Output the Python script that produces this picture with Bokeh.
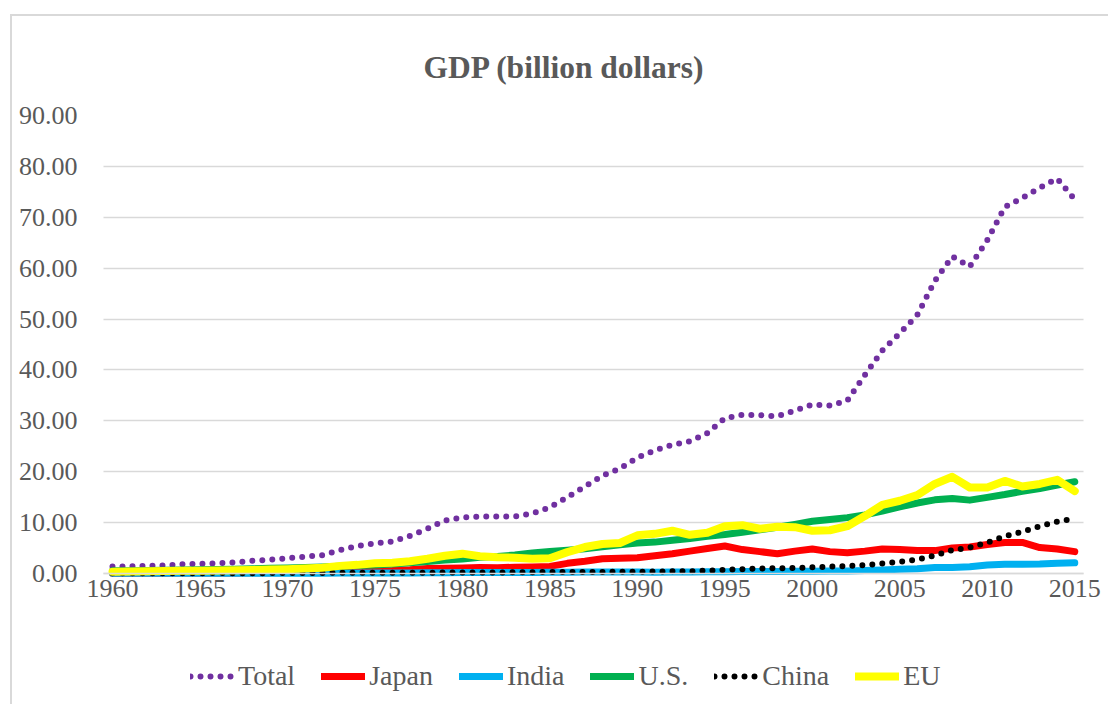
from bokeh.plotting import figure
from bokeh.models import (ColumnDataSource, FixedTicker, NumeralTickFormatter,
                          Legend, LegendItem, Range1d)
from bokeh.embed import file_html
from bokeh.resources import INLINE

years = list(range(1960, 2016))

total = [1.4, 1.4, 1.5, 1.6, 1.8, 1.9, 2.0, 2.2, 2.5, 2.7,
         3.0, 3.3, 3.6, 4.6, 5.4, 5.9, 6.3, 7.4, 8.8, 10.4,
         11.0, 11.2, 11.2, 11.2, 11.8, 13.0, 15.0, 17.1, 19.2, 20.6,
         22.8, 24.2, 25.3, 26.0, 27.6, 30.5, 31.2, 31.1, 30.9, 32.0,
         33.2, 33.0, 34.0, 39.0, 43.8, 47.2, 50.8, 57.5, 62.3, 60.3,
         65.5, 72.0, 73.8, 75.8, 77.6, 73.5]

japan = [0.05, 0.05, 0.06, 0.07, 0.08, 0.09, 0.10, 0.12, 0.15, 0.17,
         0.21, 0.24, 0.31, 0.42, 0.47, 0.52, 0.58, 0.72, 0.98, 1.02,
         1.1, 1.2, 1.13, 1.24, 1.3, 1.4, 2.0, 2.4, 2.9, 3.0,
         3.1, 3.5, 3.9, 4.4, 4.9, 5.4, 4.7, 4.3, 3.9, 4.4,
         4.8, 4.3, 4.1, 4.4, 4.8, 4.7, 4.5, 4.5, 5.0, 5.2,
         5.7, 6.1, 6.1, 5.1, 4.8, 4.3]

india = [0.04, 0.04, 0.04, 0.05, 0.06, 0.06, 0.05, 0.05, 0.05, 0.06,
         0.06, 0.07, 0.07, 0.08, 0.10, 0.10, 0.10, 0.12, 0.14, 0.15,
         0.19, 0.20, 0.20, 0.22, 0.21, 0.23, 0.25, 0.28, 0.30, 0.30,
         0.32, 0.27, 0.29, 0.28, 0.33, 0.37, 0.39, 0.42, 0.42, 0.46,
         0.46, 0.49, 0.51, 0.60, 0.70, 0.82, 0.94, 1.20, 1.19, 1.34,
         1.66, 1.82, 1.83, 1.86, 2.04, 2.10]

us = [0.54, 0.56, 0.60, 0.64, 0.69, 0.74, 0.81, 0.86, 0.94, 1.02,
      1.07, 1.16, 1.28, 1.43, 1.55, 1.69, 1.88, 2.09, 2.36, 2.63,
      2.86, 3.21, 3.34, 3.64, 4.04, 4.35, 4.59, 4.87, 5.25, 5.66,
      5.98, 6.17, 6.54, 6.88, 7.31, 7.66, 8.10, 8.61, 9.09, 9.66,
      10.28, 10.62, 10.98, 11.51, 12.27, 13.09, 13.86, 14.48, 14.72, 14.42,
      14.96, 15.52, 16.16, 16.69, 17.39, 18.04]

china = [0.06, 0.05, 0.05, 0.05, 0.06, 0.07, 0.08, 0.07, 0.07, 0.08,
         0.09, 0.10, 0.11, 0.14, 0.14, 0.16, 0.15, 0.17, 0.15, 0.18,
         0.19, 0.20, 0.20, 0.23, 0.26, 0.31, 0.30, 0.27, 0.31, 0.35,
         0.36, 0.38, 0.43, 0.44, 0.56, 0.73, 0.86, 0.96, 1.03, 1.09,
         1.21, 1.34, 1.47, 1.66, 1.96, 2.29, 2.75, 3.55, 4.59, 5.10,
         6.09, 7.30, 8.20, 9.30, 10.20, 10.80]

eu = [0.36, 0.39, 0.43, 0.47, 0.52, 0.56, 0.61, 0.65, 0.70, 0.78,
      0.86, 0.97, 1.15, 1.5, 1.7, 2.0, 2.1, 2.4, 2.9, 3.5,
      3.9, 3.4, 3.2, 3.1, 2.9, 3.0, 4.2, 5.2, 5.8, 6.0,
      7.5, 7.8, 8.4, 7.6, 8.0, 9.3, 9.5, 8.8, 9.2, 9.1,
      8.4, 8.5, 9.3, 11.3, 13.5, 14.3, 15.4, 17.6, 19.0, 16.9,
      16.9, 18.2, 17.1, 17.6, 18.4, 16.2]

x_ticks = [1960, 1965, 1970, 1975, 1980, 1985, 1990, 1995, 2000, 2005, 2010, 2015]
y_ticks = [0, 10, 20, 30, 40, 50, 60, 70, 80, 90]

series_names = ["Total", "Japan", "India", "U.S.", "China", "EU"]
colors = ["#7030A0", "#FF0000", "#00B0F0", "#00B050", "#000000", "#FFFF00"]
widths = [6, 7, 7, 7, 6, 8]
dashes = ["0 10", "solid", "solid", "solid", "0 10", "solid"]

TEXT = "#595959"
GRID = "#d9d9d9"
FONT = "Liberation Serif"

src = ColumnDataSource(dict(year=years, total=total, japan=japan, india=india,
                            us=us, china=china, eu=eu))
cols = ["total", "japan", "india", "us", "china", "eu"]

# frame extends a little past the category band (so edge tick labels are not
# clipped) and below zero (to host the legend); grid and axis are bounded.
p = figure(width=1098, height=690, output_backend="svg", toolbar_location=None,
           x_range=Range1d(1958.0, 2016.7), y_range=Range1d(-24.56, 90),
           min_border_left=65, min_border_right=6, min_border_top=99,
           min_border_bottom=8)
p.styles = {"margin-left": "10px", "margin-top": "14px",
            "border-left": "2px solid " + GRID, "border-top": "2px solid " + GRID}

p.title.text = "GDP (billion dollars)"
p.title.text_font = FONT
p.title.text_font_size = "31.5px"
p.title.text_font_style = "bold"
p.title.text_color = TEXT
p.title.align = "left"
p.title.offset = 346
p.title.standoff = 62

renderers = []
for c, col, w, d in zip(colors, cols, widths, dashes):
    r = p.line("year", col, source=src, line_color=c, line_width=w,
               line_dash=d, line_cap="round", line_join="round")
    renderers.append(r)

p.xaxis.ticker = FixedTicker(ticks=x_ticks)
p.xaxis.fixed_location = 0
p.xaxis.bounds = (1959.5, 2015.5)
p.yaxis.ticker = FixedTicker(ticks=y_ticks)
p.yaxis.formatter = NumeralTickFormatter(format="0.00")
for ax in (p.xaxis, p.yaxis):
    ax.major_label_text_font = FONT
    ax.major_label_text_font_size = "26px"
    ax.major_label_text_color = TEXT
    ax.major_tick_line_color = None
    ax.minor_tick_line_color = None
    ax.major_tick_out = 0
    ax.major_tick_in = 0
p.yaxis.axis_line_color = None
p.yaxis.major_label_standoff = 0
p.xaxis.axis_line_color = GRID
p.xaxis.axis_line_width = 1.5
p.xaxis.major_label_standoff = 6

p.xgrid.grid_line_color = None
p.ygrid.grid_line_color = GRID
p.ygrid.grid_line_width = 1.5
p.ygrid.cross_bounds = (1959.5, 2015.5)
p.outline_line_color = None

legend = Legend(items=[LegendItem(label=n, renderers=[r]) for n, r in zip(series_names, renderers)],
                orientation="horizontal", location=(113, 6),
                label_text_font=FONT, label_text_font_size="28px",
                label_text_color=TEXT, glyph_width=44, glyph_height=20,
                label_standoff=4, spacing=26, padding=0, margin=0,
                border_line_color=None, background_fill_alpha=0)
p.add_layout(legend, "center")

open("out.html", "w").write(file_html(p, INLINE))
